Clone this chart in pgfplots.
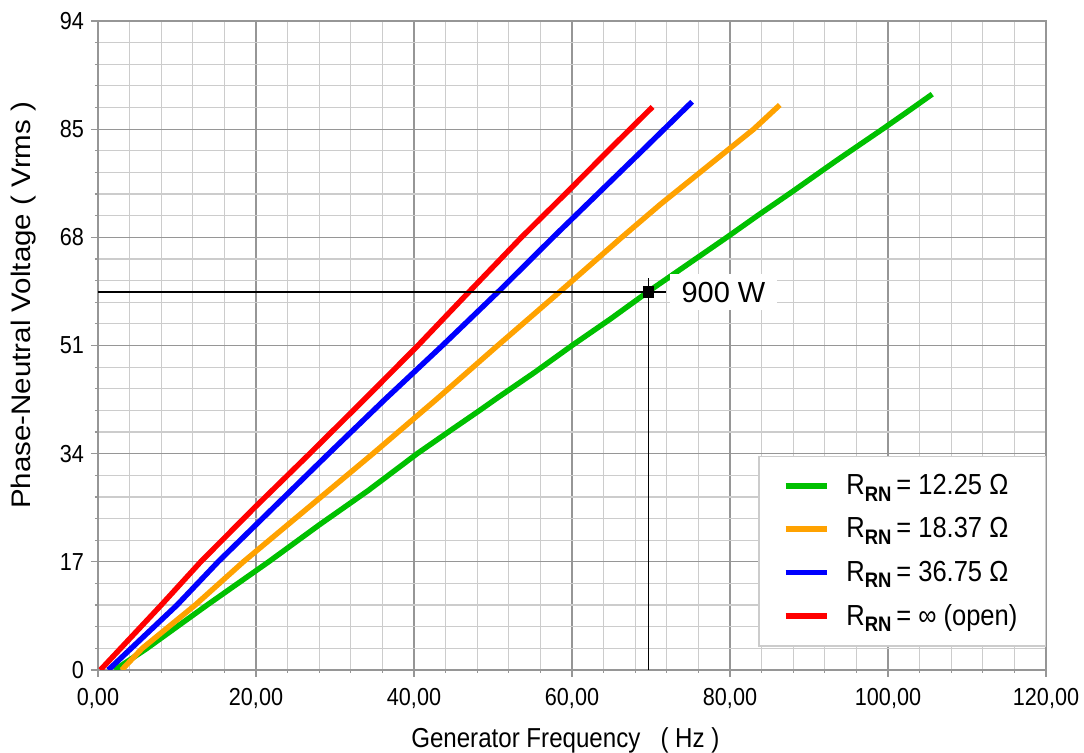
\documentclass[border=0pt]{standalone}
\usepackage{pgfplots}
\pgfplotsset{compat=1.18}
\usepackage{fontspec}
\setmainfont{Liberation Sans}[FakeStretch=0.88]
\newfontfamily\widefont{Liberation Sans}[FakeStretch=1.0]
\newfontfamily\ylfont{Liberation Sans}[FakeStretch=1.1]
\definecolor{cgreen}{RGB}{0,192,0}
\definecolor{corange}{RGB}{255,162,0}
\definecolor{cblue}{RGB}{0,0,255}
\definecolor{cred}{RGB}{255,0,0}
\definecolor{majgrid}{RGB}{150,150,150}
\definecolor{mingrid}{RGB}{204,204,204}
\newcommand{\Sub}[1]{\raisebox{-0.45ex}{\fontsize{10.5}{12}\selectfont\bfseries #1}}
\begin{document}
\begin{tikzpicture}
\useasboundingbox (-49pt,-41.5pt) rectangle (493pt,335pt);
\begin{axis}[
  at={(0,0)}, anchor=south west,
  scale only axis, width=474pt, height=324.5pt,
  xmin=0, xmax=120, ymin=0, ymax=102,
  xtick={0,20,...,120},
  xticklabels={{0,00},{20,00},{40,00},{60,00},{80,00},{100,00},{120,00}},
  ytick={0,17,34,51,68,85,102},
  yticklabels={0,17,34,51,68,85,94},
  minor x tick num=4, minor y tick num=4,
  grid=both,
  major grid style={majgrid, line width=0.6pt},
  minor grid style={mingrid, line width=0.6pt},
  axis line style={majgrid, line width=0.7pt},
  tick style={majgrid, line width=0.6pt},
  tick pos=left,
  tick align=outside, major tick length=3.5pt, minor tick length=1.5pt,
  ticklabel style={font=\fontsize{12.3}{14}\selectfont},
  xticklabel style={yshift=-2pt},
  xlabel={Generator Frequency \ \ ( Hz )},
  ylabel={Phase-Neutral Voltage ( Vrms )},
  xlabel style={font=\fontsize{13.7}{15}\selectfont, at={(axis description cs:0.493,-0.12)}, anchor=base},
  ylabel style={font=\ylfont\fontsize{13.4}{15}\selectfont, at={(axis description cs:-0.078,0.562)}, anchor=center},
  legend style={at={(axis description cs:1,0.036)}, anchor=south east,
    draw=mingrid, line width=0.6pt, fill=white,
    font=\fontsize{14.5}{16}\selectfont,
    inner xsep=12pt, inner ysep=7pt, row sep=6pt, column sep=6.5pt,
    cells={anchor=west}},
  legend image code/.code={\draw[#1] (0pt,0pt) -- (20.5pt,0pt);},
]
\addplot[cgreen, line width=2.7pt] coordinates {
(2.1,0) (6.2,3.4) (13.8,10.2) (21.6,17) (28.0,22.8) (34.2,28.2) (40.4,34) (44.8,37.8) (48.2,40.7) (50.6,42.8) (55.3,46.8) (60.0,51) (64.9,55.2) (69.8,59.6) (74.7,63.8) (79.6,68) (83.7,71.6) (87.8,75.1) (93.4,80.0) (99.3,85) (102.3,87.6) (105.6,90.5)};
\addlegendentry{R\Sub{RN}\,= 12.25 Ω}
\addplot[corange, line width=2.7pt] coordinates {
(3.0,0) (5.6,3.4) (12.3,10.2) (18.4,17) (26.6,25.5) (34.8,34) (42.8,42.5) (50.6,51) (58.6,59.6) (66.3,68) (71.2,73.2) (76.2,78.2) (83.0,85) (86.3,88.8)};
\addlegendentry{R\Sub{RN}\,= 18.37 Ω}
\addplot[cblue, line width=2.7pt] coordinates {
(1.3,0) (10.0,10.2) (15.2,17) (22.2,25.5) (29.2,34) (36.3,42.5) (43.6,51) (50.8,59.6) (57.6,68) (63.4,75) (69.2,82) (75.2,89.3)};
\addlegendentry{R\Sub{RN}\,= 36.75 Ω}
\addplot[cred, line width=2.7pt] coordinates {
(0.3,0) (8.0,10.2) (13.0,17) (19.8,25.5) (26.8,34) (33.7,42.5) (40.5,51) (47.1,59.6) (53.6,68) (59.3,75) (64.9,82) (70.2,88.5)};
\addlegendentry{R\Sub{RN}\,= ∞ (open)}
\addplot[black, line width=0.7pt, forget plot] coordinates {(0,59.4) (71.9,59.4)};
\addplot[black, line width=0.7pt, forget plot] coordinates {(69.7,0) (69.7,61.6)};
\addplot[black, only marks, mark=square*, mark size=2.6pt, forget plot] coordinates {(69.7,59.4)};
\node[fill=white, anchor=west, inner xsep=6pt, inner ysep=4pt, font=\widefont\fontsize{14.5}{16}\selectfont] at (axis cs:72.3,59.4) {900 W};
\end{axis}
\end{tikzpicture}
\end{document}
